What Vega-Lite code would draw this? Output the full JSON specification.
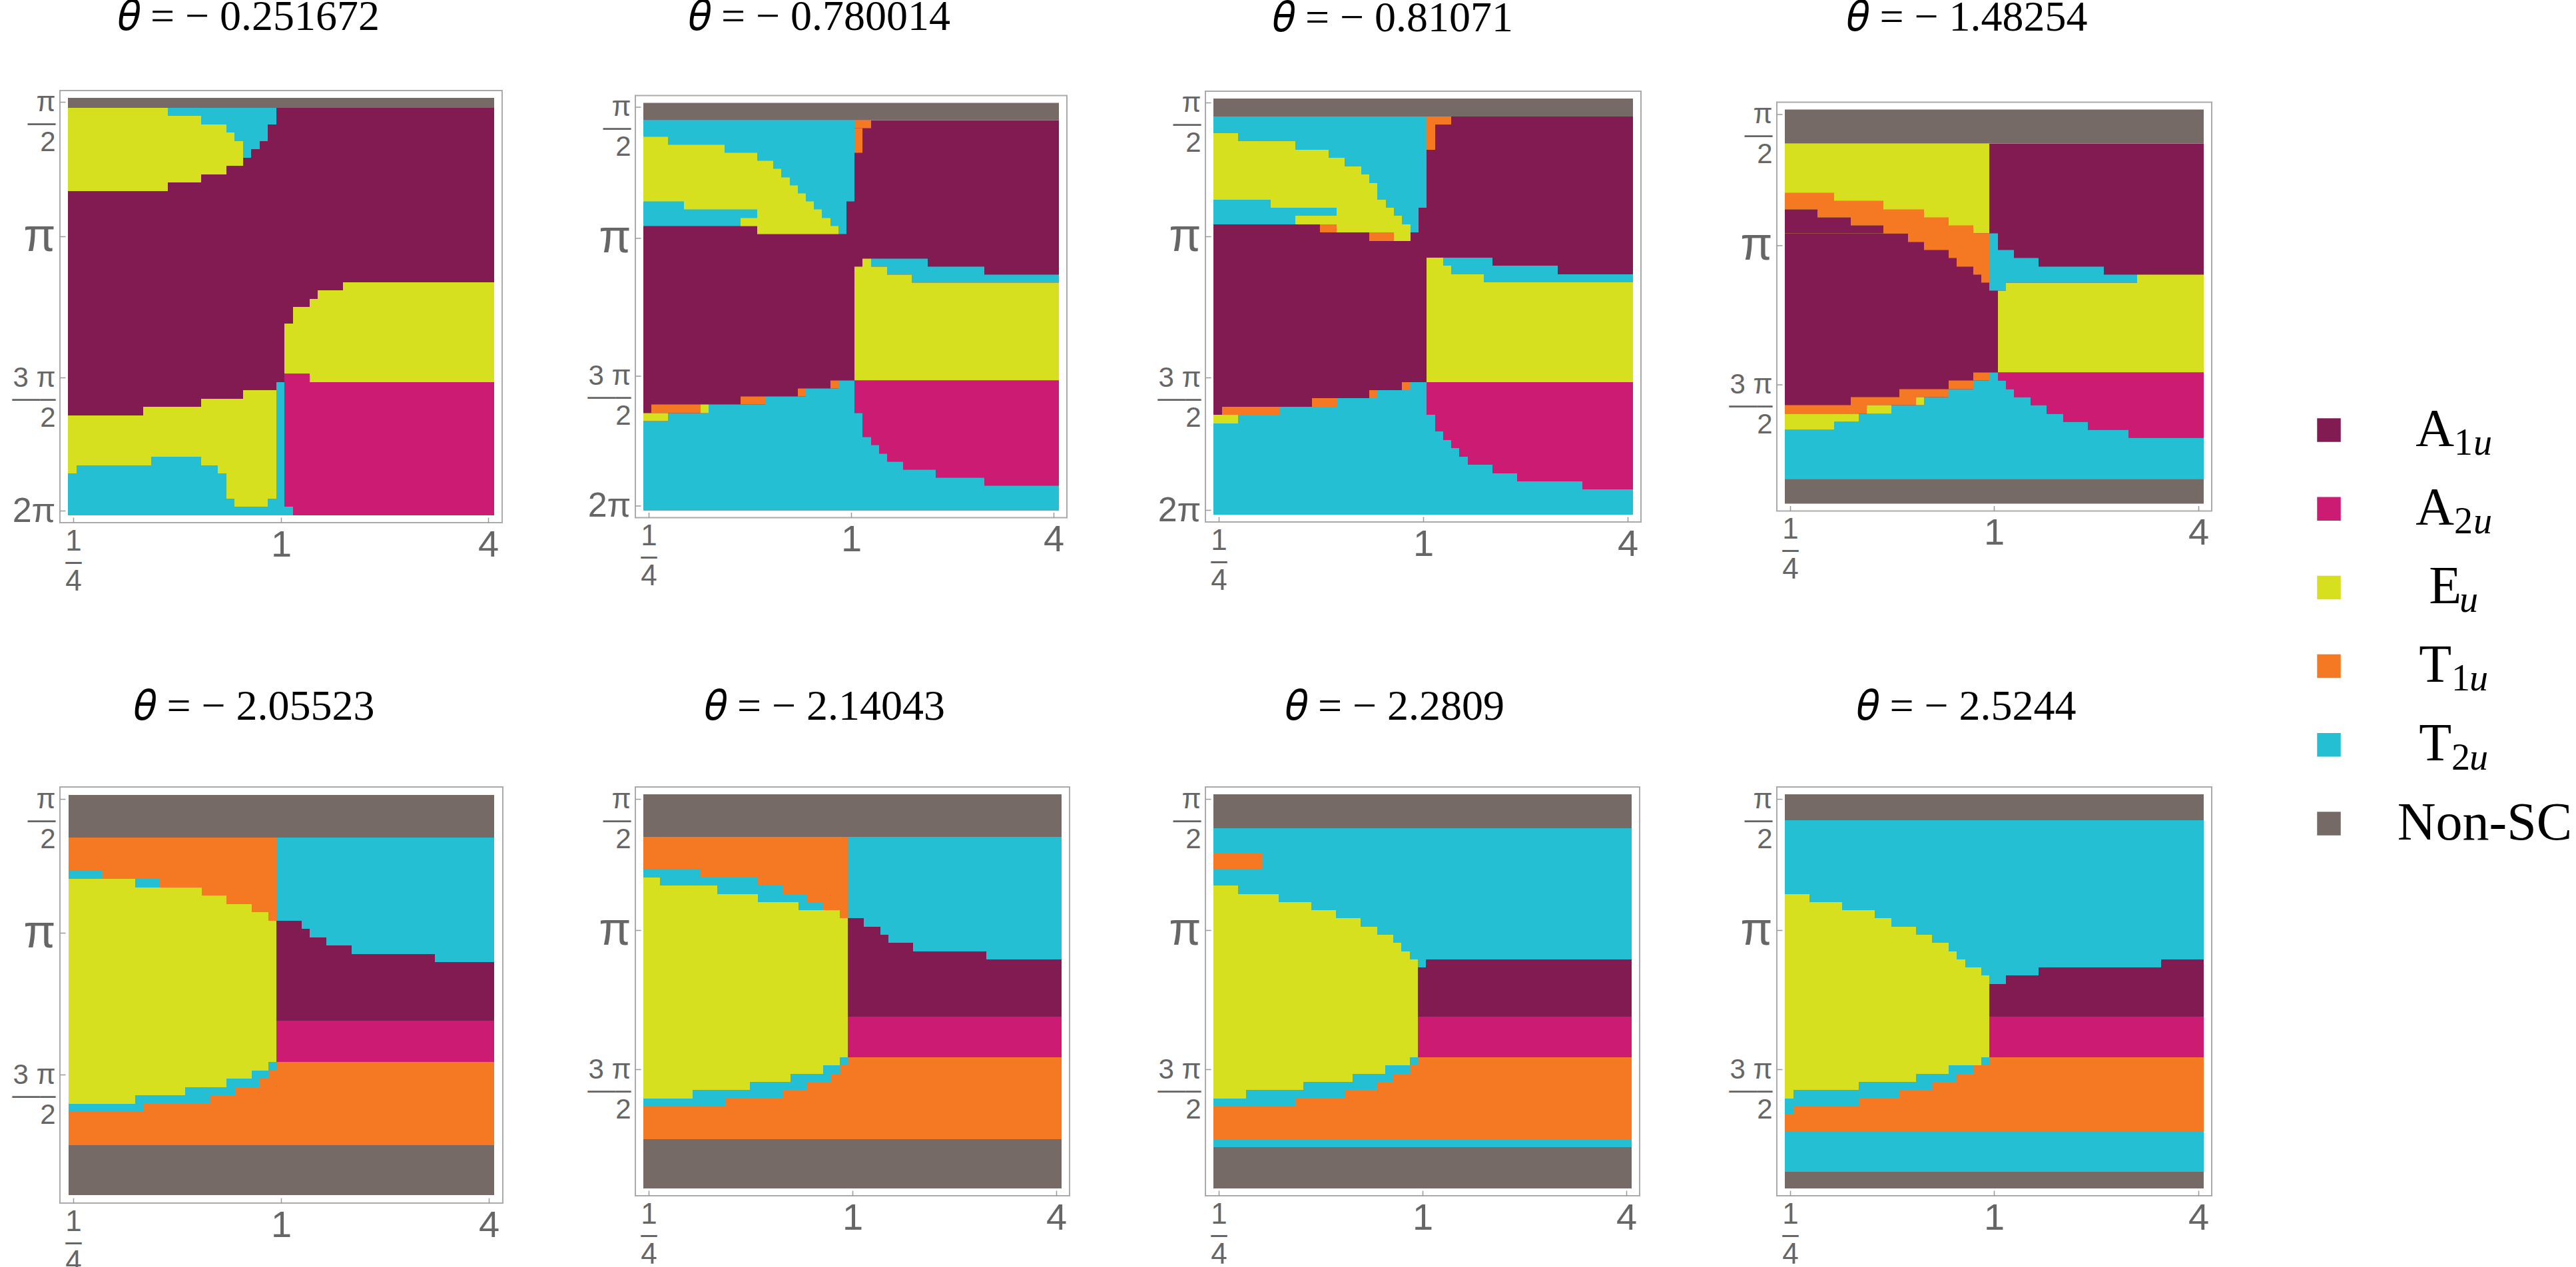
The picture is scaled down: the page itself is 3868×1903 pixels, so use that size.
{
"$schema":"https://vega.github.io/schema/vega-lite/v6.json",
"background":"white",
"padding":{"left":16,"top":-8,"right":0,"bottom":0},
"config":{
"view":{"stroke":"#aaaaaa","strokeWidth":2},
"title":{"font":"Liberation Serif","fontSize":64,"fontWeight":"normal","color":"#000000","anchor":"middle","frame":"group"},
"axis":{"domain":false,"grid":false,"title":null,"tickColor":"#999999","tickWidth":1.5,"tickSize":-8,"labelFont":"Liberation Sans","labelColor":"#666666","labelOverlap":false,"labelFlush":false,"labelBound":false,"labelLineHeight":30}
},
"datasets":{
"p1":[
{"x":0,"x2":51.15,"y":1,"y2":50,"phase":"A1u"},{"x":0,"x2":51.15,"y":-0.15,"y2":1,"phase":"Non-SC"},
{"x":0,"x2":12,"y":1,"y2":11,"phase":"Eu"},{"x":12,"x2":16,"y":2,"y2":10,"phase":"Eu"},{"x":16,"x2":19,"y":3,"y2":9,"phase":"Eu"},{"x":19,"x2":20,"y":4,"y2":8,"phase":"Eu"},{"x":20,"x2":21,"y":5,"y2":8,"phase":"Eu"},
{"x":12,"x2":16,"y":1,"y2":2,"phase":"T2u"},{"x":16,"x2":19,"y":1,"y2":3,"phase":"T2u"},{"x":19,"x2":20,"y":1,"y2":4,"phase":"T2u"},{"x":20,"x2":21,"y":1,"y2":5,"phase":"T2u"},{"x":21,"x2":22,"y":1,"y2":7,"phase":"T2u"},{"x":22,"x2":23,"y":1,"y2":6,"phase":"T2u"},{"x":23,"x2":24,"y":1,"y2":5,"phase":"T2u"},{"x":24,"x2":25,"y":1,"y2":3,"phase":"T2u"},
{"x":26,"x2":27,"y":27,"y2":33,"phase":"Eu"},{"x":27,"x2":29,"y":25,"y2":33,"phase":"Eu"},{"x":29,"x2":30,"y":24,"y2":34,"phase":"Eu"},{"x":30,"x2":33,"y":23,"y2":34,"phase":"Eu"},{"x":33,"x2":51.15,"y":22,"y2":34,"phase":"Eu"},
{"x":26,"x2":27,"y":33,"y2":49,"phase":"A2u"},{"x":27,"x2":29,"y":33,"y2":50,"phase":"A2u"},{"x":29,"x2":51.15,"y":34,"y2":50,"phase":"A2u"},{"x":26,"x2":27,"y":49,"y2":50,"phase":"T2u"},
{"x":0,"x2":1,"y":38,"y2":45,"phase":"Eu"},{"x":1,"x2":9,"y":38,"y2":44,"phase":"Eu"},{"x":9,"x2":10,"y":37,"y2":44,"phase":"Eu"},{"x":10,"x2":16,"y":37,"y2":43,"phase":"Eu"},{"x":16,"x2":18,"y":36,"y2":44,"phase":"Eu"},{"x":18,"x2":19,"y":36,"y2":45,"phase":"Eu"},{"x":19,"x2":20,"y":36,"y2":48,"phase":"Eu"},{"x":20,"x2":21,"y":36,"y2":49,"phase":"Eu"},{"x":21,"x2":24,"y":35,"y2":49,"phase":"Eu"},{"x":24,"x2":25,"y":35,"y2":48,"phase":"Eu"},
{"x":0,"x2":1,"y":45,"y2":50,"phase":"T2u"},{"x":1,"x2":10,"y":44,"y2":50,"phase":"T2u"},{"x":10,"x2":16,"y":43,"y2":50,"phase":"T2u"},{"x":16,"x2":18,"y":44,"y2":50,"phase":"T2u"},{"x":18,"x2":19,"y":45,"y2":50,"phase":"T2u"},{"x":19,"x2":20,"y":48,"y2":50,"phase":"T2u"},{"x":20,"x2":24,"y":49,"y2":50,"phase":"T2u"},{"x":24,"x2":25,"y":48,"y2":50,"phase":"T2u"},{"x":25,"x2":26,"y":34,"y2":50,"phase":"T2u"}
],
"p2":[
{"x":0,"x2":51.15,"y":2,"y2":50,"phase":"A1u"},{"x":0,"x2":51.15,"y":-0.15,"y2":2,"phase":"Non-SC"},
{"x":0,"x2":14,"y":2,"y2":15,"phase":"T2u"},{"x":14,"x2":25,"y":2,"y2":16,"phase":"T2u"},{"x":25,"x2":26,"y":2,"y2":12,"phase":"T2u"},
{"x":0,"x2":3,"y":4,"y2":12,"phase":"Eu"},{"x":3,"x2":5,"y":5,"y2":12,"phase":"Eu"},{"x":5,"x2":10,"y":5,"y2":13,"phase":"Eu"},{"x":10,"x2":14,"y":6,"y2":13,"phase":"Eu"},{"x":12,"x2":14,"y":14,"y2":15,"phase":"Eu"},{"x":14,"x2":16,"y":7,"y2":16,"phase":"Eu"},{"x":16,"x2":17,"y":8,"y2":16,"phase":"Eu"},{"x":17,"x2":18,"y":9,"y2":16,"phase":"Eu"},{"x":18,"x2":19,"y":10,"y2":16,"phase":"Eu"},{"x":19,"x2":20,"y":11,"y2":16,"phase":"Eu"},{"x":20,"x2":21,"y":12,"y2":16,"phase":"Eu"},{"x":21,"x2":22,"y":13,"y2":16,"phase":"Eu"},{"x":22,"x2":23,"y":14,"y2":16,"phase":"Eu"},{"x":23,"x2":24,"y":15,"y2":16,"phase":"Eu"},
{"x":26,"x2":28,"y":2,"y2":3,"phase":"T1u"},{"x":26,"x2":27,"y":3,"y2":6,"phase":"T1u"},
{"x":28,"x2":30,"y":19,"y2":20,"phase":"T2u"},{"x":30,"x2":33,"y":19,"y2":21,"phase":"T2u"},{"x":33,"x2":35,"y":19,"y2":22,"phase":"T2u"},{"x":35,"x2":42,"y":20,"y2":22,"phase":"T2u"},{"x":42,"x2":51.15,"y":21,"y2":22,"phase":"T2u"},
{"x":26,"x2":27,"y":20,"y2":34,"phase":"Eu"},{"x":27,"x2":28,"y":19,"y2":34,"phase":"Eu"},{"x":28,"x2":30,"y":20,"y2":34,"phase":"Eu"},{"x":30,"x2":33,"y":21,"y2":34,"phase":"Eu"},{"x":33,"x2":51.15,"y":22,"y2":34,"phase":"Eu"},
{"x":26,"x2":27,"y":34,"y2":38,"phase":"A2u"},{"x":27,"x2":28,"y":34,"y2":41,"phase":"A2u"},{"x":28,"x2":29,"y":34,"y2":42,"phase":"A2u"},{"x":29,"x2":30,"y":34,"y2":43,"phase":"A2u"},{"x":30,"x2":32,"y":34,"y2":44,"phase":"A2u"},{"x":32,"x2":36,"y":34,"y2":45,"phase":"A2u"},{"x":36,"x2":42,"y":34,"y2":46,"phase":"A2u"},{"x":42,"x2":51.15,"y":34,"y2":47,"phase":"A2u"},
{"x":26,"x2":27,"y":38,"y2":50,"phase":"T2u"},{"x":27,"x2":28,"y":41,"y2":50,"phase":"T2u"},{"x":28,"x2":29,"y":42,"y2":50,"phase":"T2u"},{"x":29,"x2":30,"y":43,"y2":50,"phase":"T2u"},{"x":30,"x2":32,"y":44,"y2":50,"phase":"T2u"},{"x":32,"x2":36,"y":45,"y2":50,"phase":"T2u"},{"x":36,"x2":42,"y":46,"y2":50,"phase":"T2u"},{"x":42,"x2":51.15,"y":47,"y2":50,"phase":"T2u"},
{"x":0,"x2":3,"y":39,"y2":50,"phase":"T2u"},{"x":3,"x2":8,"y":38,"y2":50,"phase":"T2u"},{"x":8,"x2":15,"y":37,"y2":50,"phase":"T2u"},{"x":15,"x2":20,"y":36,"y2":50,"phase":"T2u"},{"x":20,"x2":24,"y":35,"y2":50,"phase":"T2u"},{"x":24,"x2":26,"y":34,"y2":50,"phase":"T2u"},
{"x":1,"x2":7,"y":37,"y2":38,"phase":"T1u"},{"x":12,"x2":15,"y":36,"y2":37,"phase":"T1u"},{"x":19,"x2":20,"y":35,"y2":36,"phase":"T1u"},{"x":23,"x2":24,"y":34,"y2":35,"phase":"T1u"},{"x":0,"x2":3,"y":38,"y2":39,"phase":"Eu"},{"x":7,"x2":8,"y":37,"y2":38,"phase":"Eu"}
],
"p3":[
{"x":0,"x2":51.15,"y":2,"y2":50,"phase":"A1u"},{"x":0,"x2":51.15,"y":-0.15,"y2":2,"phase":"Non-SC"},
{"x":0,"x2":15,"y":2,"y2":15,"phase":"T2u"},{"x":15,"x2":25,"y":2,"y2":16,"phase":"T2u"},{"x":25,"x2":26,"y":2,"y2":13,"phase":"T2u"},
{"x":0,"x2":3,"y":4,"y2":12,"phase":"Eu"},{"x":3,"x2":7,"y":5,"y2":12,"phase":"Eu"},{"x":7,"x2":10,"y":5,"y2":13,"phase":"Eu"},{"x":10,"x2":14,"y":6,"y2":13,"phase":"Eu"},{"x":10,"x2":15,"y":14,"y2":15,"phase":"Eu"},{"x":14,"x2":15,"y":7,"y2":13,"phase":"Eu"},{"x":15,"x2":16,"y":7,"y2":16,"phase":"Eu"},{"x":16,"x2":18,"y":8,"y2":16,"phase":"Eu"},{"x":18,"x2":19,"y":9,"y2":16,"phase":"Eu"},{"x":19,"x2":20,"y":10,"y2":16,"phase":"Eu"},{"x":20,"x2":21,"y":12,"y2":16,"phase":"Eu"},{"x":21,"x2":22,"y":13,"y2":16,"phase":"Eu"},{"x":22,"x2":23,"y":14,"y2":17,"phase":"Eu"},{"x":23,"x2":24,"y":15,"y2":17,"phase":"Eu"},
{"x":13,"x2":15,"y":15,"y2":16,"phase":"T1u"},{"x":19,"x2":22,"y":16,"y2":17,"phase":"T1u"},{"x":26,"x2":29,"y":2,"y2":3,"phase":"T1u"},{"x":26,"x2":27,"y":3,"y2":6,"phase":"T1u"},
{"x":26,"x2":28,"y":19,"y2":34,"phase":"Eu"},{"x":28,"x2":29,"y":20,"y2":34,"phase":"Eu"},{"x":29,"x2":33,"y":21,"y2":34,"phase":"Eu"},{"x":33,"x2":51.15,"y":22,"y2":34,"phase":"Eu"},
{"x":28,"x2":29,"y":19,"y2":20,"phase":"T2u"},{"x":29,"x2":33,"y":19,"y2":21,"phase":"T2u"},{"x":33,"x2":34,"y":19,"y2":22,"phase":"T2u"},{"x":34,"x2":42,"y":20,"y2":22,"phase":"T2u"},{"x":42,"x2":51.15,"y":21,"y2":22,"phase":"T2u"},
{"x":26,"x2":27,"y":34,"y2":38,"phase":"A2u"},{"x":27,"x2":28,"y":34,"y2":40,"phase":"A2u"},{"x":28,"x2":29,"y":34,"y2":41,"phase":"A2u"},{"x":29,"x2":30,"y":34,"y2":42,"phase":"A2u"},{"x":30,"x2":31,"y":34,"y2":43,"phase":"A2u"},{"x":31,"x2":34,"y":34,"y2":44,"phase":"A2u"},{"x":34,"x2":37,"y":34,"y2":45,"phase":"A2u"},{"x":37,"x2":45,"y":34,"y2":46,"phase":"A2u"},{"x":45,"x2":51.15,"y":34,"y2":47,"phase":"A2u"},
{"x":26,"x2":27,"y":38,"y2":50,"phase":"T2u"},{"x":27,"x2":28,"y":40,"y2":50,"phase":"T2u"},{"x":28,"x2":29,"y":41,"y2":50,"phase":"T2u"},{"x":29,"x2":30,"y":42,"y2":50,"phase":"T2u"},{"x":30,"x2":31,"y":43,"y2":50,"phase":"T2u"},{"x":31,"x2":34,"y":44,"y2":50,"phase":"T2u"},{"x":34,"x2":37,"y":45,"y2":50,"phase":"T2u"},{"x":37,"x2":45,"y":46,"y2":50,"phase":"T2u"},{"x":45,"x2":51.15,"y":47,"y2":50,"phase":"T2u"},
{"x":0,"x2":3,"y":39,"y2":50,"phase":"T2u"},{"x":3,"x2":8,"y":38,"y2":50,"phase":"T2u"},{"x":8,"x2":15,"y":37,"y2":50,"phase":"T2u"},{"x":15,"x2":20,"y":36,"y2":50,"phase":"T2u"},{"x":20,"x2":24,"y":35,"y2":50,"phase":"T2u"},{"x":24,"x2":26,"y":34,"y2":50,"phase":"T2u"},
{"x":1,"x2":8,"y":37,"y2":38,"phase":"T1u"},{"x":12,"x2":15,"y":36,"y2":37,"phase":"T1u"},{"x":19,"x2":20,"y":35,"y2":36,"phase":"T1u"},{"x":23,"x2":24,"y":34,"y2":35,"phase":"T1u"},{"x":0,"x2":3,"y":38,"y2":39,"phase":"Eu"}
],
"p4":[
{"x":0,"x2":51.15,"y":4,"y2":45,"phase":"A1u"},{"x":0,"x2":51.15,"y":-0.15,"y2":4,"phase":"Non-SC"},{"x":0,"x2":51.15,"y":45,"y2":48,"phase":"Non-SC"},
{"x":0,"x2":25,"y":4,"y2":15,"phase":"Eu"},
{"x":0,"x2":4,"y":10,"y2":12,"phase":"T1u"},{"x":4,"x2":6,"y":10,"y2":13,"phase":"T1u"},{"x":6,"x2":8,"y":11,"y2":13,"phase":"T1u"},{"x":8,"x2":12,"y":11,"y2":14,"phase":"T1u"},{"x":12,"x2":15,"y":12,"y2":15,"phase":"T1u"},{"x":15,"x2":17,"y":12,"y2":16,"phase":"T1u"},{"x":17,"x2":20,"y":13,"y2":17,"phase":"T1u"},{"x":20,"x2":21,"y":14,"y2":18,"phase":"T1u"},{"x":21,"x2":23,"y":14,"y2":19,"phase":"T1u"},{"x":23,"x2":24,"y":15,"y2":20,"phase":"T1u"},{"x":24,"x2":25,"y":15,"y2":21,"phase":"T1u"},
{"x":0,"x2":4,"y":12,"y2":15,"phase":"A1u"},{"x":4,"x2":8,"y":13,"y2":15,"phase":"A1u"},{"x":8,"x2":12,"y":14,"y2":15,"phase":"A1u"},
{"x":26,"x2":27,"y":22,"y2":32,"phase":"Eu"},{"x":27,"x2":43,"y":21,"y2":32,"phase":"Eu"},{"x":43,"x2":51.15,"y":20,"y2":32,"phase":"Eu"},
{"x":25,"x2":26,"y":15,"y2":22,"phase":"T2u"},{"x":26,"x2":27,"y":17,"y2":22,"phase":"T2u"},{"x":27,"x2":28,"y":17,"y2":21,"phase":"T2u"},{"x":28,"x2":31,"y":18,"y2":21,"phase":"T2u"},{"x":31,"x2":39,"y":19,"y2":21,"phase":"T2u"},{"x":39,"x2":43,"y":20,"y2":21,"phase":"T2u"},
{"x":0,"x2":6,"y":39,"y2":45,"phase":"T2u"},{"x":6,"x2":9,"y":38,"y2":45,"phase":"T2u"},{"x":9,"x2":13,"y":37,"y2":45,"phase":"T2u"},{"x":13,"x2":17,"y":36,"y2":45,"phase":"T2u"},{"x":17,"x2":20,"y":35,"y2":45,"phase":"T2u"},{"x":20,"x2":23,"y":34,"y2":45,"phase":"T2u"},{"x":23,"x2":25,"y":33,"y2":45,"phase":"T2u"},{"x":25,"x2":26,"y":32,"y2":45,"phase":"T2u"},
{"x":26,"x2":27,"y":33,"y2":45,"phase":"T2u"},{"x":27,"x2":28,"y":34,"y2":45,"phase":"T2u"},{"x":28,"x2":30,"y":35,"y2":45,"phase":"T2u"},{"x":30,"x2":32,"y":36,"y2":45,"phase":"T2u"},{"x":32,"x2":34,"y":37,"y2":45,"phase":"T2u"},{"x":34,"x2":37,"y":38,"y2":45,"phase":"T2u"},{"x":37,"x2":42,"y":39,"y2":45,"phase":"T2u"},{"x":42,"x2":51.15,"y":40,"y2":45,"phase":"T2u"},
{"x":26,"x2":27,"y":32,"y2":33,"phase":"A2u"},{"x":27,"x2":28,"y":32,"y2":34,"phase":"A2u"},{"x":28,"x2":30,"y":32,"y2":35,"phase":"A2u"},{"x":30,"x2":32,"y":32,"y2":36,"phase":"A2u"},{"x":32,"x2":34,"y":32,"y2":37,"phase":"A2u"},{"x":34,"x2":37,"y":32,"y2":38,"phase":"A2u"},{"x":37,"x2":42,"y":32,"y2":39,"phase":"A2u"},{"x":42,"x2":51.15,"y":32,"y2":40,"phase":"A2u"},
{"x":0,"x2":8,"y":36,"y2":37,"phase":"T1u"},{"x":8,"x2":10,"y":35,"y2":37,"phase":"T1u"},{"x":10,"x2":14,"y":35,"y2":36,"phase":"T1u"},{"x":14,"x2":16,"y":34,"y2":36,"phase":"T1u"},{"x":16,"x2":20,"y":34,"y2":35,"phase":"T1u"},{"x":20,"x2":23,"y":33,"y2":34,"phase":"T1u"},{"x":23,"x2":25,"y":32,"y2":33,"phase":"T1u"},
{"x":0,"x2":6,"y":37,"y2":39,"phase":"Eu"},{"x":6,"x2":9,"y":37,"y2":38,"phase":"Eu"},{"x":10,"x2":13,"y":36,"y2":37,"phase":"Eu"},{"x":16,"x2":17,"y":35,"y2":36,"phase":"Eu"}
],
"p5":[
{"x":0,"x2":25,"y":5,"y2":42,"phase":"T1u"},{"x":25,"x2":51.15,"y":32,"y2":42,"phase":"T1u"},{"x":0,"x2":51.15,"y":-0.15,"y2":5,"phase":"Non-SC"},{"x":0,"x2":51.15,"y":42,"y2":48,"phase":"Non-SC"},
{"x":25,"x2":51.15,"y":5,"y2":27,"phase":"A1u"},{"x":25,"x2":51.15,"y":27,"y2":32,"phase":"A2u"},
{"x":25,"x2":28,"y":5,"y2":15,"phase":"T2u"},{"x":28,"x2":29,"y":5,"y2":16,"phase":"T2u"},{"x":29,"x2":31,"y":5,"y2":17,"phase":"T2u"},{"x":31,"x2":34,"y":5,"y2":18,"phase":"T2u"},{"x":34,"x2":44,"y":5,"y2":19,"phase":"T2u"},{"x":44,"x2":51.15,"y":5,"y2":20,"phase":"T2u"},
{"x":0,"x2":4,"y":9,"y2":10,"phase":"T2u"},{"x":8,"x2":11,"y":10,"y2":11,"phase":"T2u"},
{"x":0,"x2":8,"y":10,"y2":37,"phase":"Eu"},{"x":8,"x2":14,"y":11,"y2":36,"phase":"Eu"},{"x":14,"x2":16,"y":11,"y2":35,"phase":"Eu"},{"x":16,"x2":19,"y":12,"y2":35,"phase":"Eu"},{"x":19,"x2":22,"y":13,"y2":34,"phase":"Eu"},{"x":22,"x2":24,"y":14,"y2":33,"phase":"Eu"},{"x":24,"x2":25,"y":15,"y2":32,"phase":"Eu"},
{"x":0,"x2":9,"y":37,"y2":38,"phase":"T2u"},{"x":8,"x2":17,"y":36,"y2":37,"phase":"T2u"},{"x":14,"x2":20,"y":35,"y2":36,"phase":"T2u"},{"x":19,"x2":23,"y":34,"y2":35,"phase":"T2u"},{"x":22,"x2":24,"y":33,"y2":34,"phase":"T2u"},{"x":24,"x2":25,"y":32,"y2":33,"phase":"T2u"}
],
"p6":[
{"x":0,"x2":25,"y":5,"y2":42,"phase":"T1u"},{"x":25,"x2":51.15,"y":32,"y2":42,"phase":"T1u"},{"x":0,"x2":51.15,"y":-0.15,"y2":5,"phase":"Non-SC"},{"x":0,"x2":51.15,"y":42,"y2":48,"phase":"Non-SC"},
{"x":25,"x2":51.15,"y":5,"y2":27,"phase":"A1u"},{"x":25,"x2":51.15,"y":27,"y2":32,"phase":"A2u"},
{"x":25,"x2":27,"y":5,"y2":15,"phase":"T2u"},{"x":27,"x2":29,"y":5,"y2":16,"phase":"T2u"},{"x":29,"x2":30,"y":5,"y2":17,"phase":"T2u"},{"x":30,"x2":33,"y":5,"y2":18,"phase":"T2u"},{"x":33,"x2":42,"y":5,"y2":19,"phase":"T2u"},{"x":42,"x2":51.15,"y":5,"y2":20,"phase":"T2u"},
{"x":0,"x2":7,"y":9,"y2":10,"phase":"T2u"},{"x":2,"x2":14,"y":10,"y2":11,"phase":"T2u"},{"x":9,"x2":17,"y":11,"y2":12,"phase":"T2u"},{"x":14,"x2":20,"y":12,"y2":13,"phase":"T2u"},{"x":19,"x2":22,"y":13,"y2":14,"phase":"T2u"},
{"x":0,"x2":2,"y":10,"y2":37,"phase":"Eu"},{"x":2,"x2":6,"y":11,"y2":37,"phase":"Eu"},{"x":6,"x2":9,"y":11,"y2":36,"phase":"Eu"},{"x":9,"x2":13,"y":12,"y2":36,"phase":"Eu"},{"x":13,"x2":14,"y":12,"y2":35,"phase":"Eu"},{"x":14,"x2":18,"y":13,"y2":35,"phase":"Eu"},{"x":18,"x2":19,"y":13,"y2":34,"phase":"Eu"},{"x":19,"x2":22,"y":14,"y2":34,"phase":"Eu"},{"x":22,"x2":24,"y":14,"y2":33,"phase":"Eu"},{"x":24,"x2":25,"y":15,"y2":32,"phase":"Eu"},
{"x":0,"x2":10,"y":37,"y2":38,"phase":"T2u"},{"x":6,"x2":17,"y":36,"y2":37,"phase":"T2u"},{"x":13,"x2":20,"y":35,"y2":36,"phase":"T2u"},{"x":18,"x2":23,"y":34,"y2":35,"phase":"T2u"},{"x":22,"x2":24,"y":33,"y2":34,"phase":"T2u"},{"x":24,"x2":25,"y":32,"y2":33,"phase":"T2u"}
],
"p7":[
{"x":0,"x2":51.15,"y":4,"y2":20,"phase":"T2u"},{"x":0,"x2":25,"y":20,"y2":32,"phase":"T2u"},{"x":25,"x2":26,"y":20,"y2":21,"phase":"T2u"},{"x":0,"x2":51.15,"y":-0.15,"y2":4,"phase":"Non-SC"},{"x":0,"x2":51.15,"y":43,"y2":48,"phase":"Non-SC"},
{"x":0,"x2":51.15,"y":32,"y2":42,"phase":"T1u"},{"x":0,"x2":51.15,"y":42,"y2":43,"phase":"T2u"},{"x":0,"x2":6,"y":7,"y2":9,"phase":"T1u"},
{"x":26,"x2":51.15,"y":20,"y2":27,"phase":"A1u"},{"x":25,"x2":26,"y":21,"y2":27,"phase":"A1u"},{"x":25,"x2":51.15,"y":27,"y2":32,"phase":"A2u"},
{"x":0,"x2":3,"y":11,"y2":37,"phase":"Eu"},{"x":3,"x2":4,"y":12,"y2":37,"phase":"Eu"},{"x":4,"x2":8,"y":12,"y2":36,"phase":"Eu"},{"x":8,"x2":11,"y":13,"y2":36,"phase":"Eu"},{"x":11,"x2":12,"y":13,"y2":35,"phase":"Eu"},{"x":12,"x2":15,"y":14,"y2":35,"phase":"Eu"},{"x":15,"x2":17,"y":15,"y2":35,"phase":"Eu"},{"x":17,"x2":18,"y":15,"y2":34,"phase":"Eu"},{"x":18,"x2":20,"y":16,"y2":34,"phase":"Eu"},{"x":20,"x2":21,"y":17,"y2":34,"phase":"Eu"},{"x":21,"x2":22,"y":17,"y2":33,"phase":"Eu"},{"x":22,"x2":23,"y":18,"y2":33,"phase":"Eu"},{"x":23,"x2":24,"y":19,"y2":33,"phase":"Eu"},{"x":24,"x2":25,"y":20,"y2":32,"phase":"Eu"},
{"x":0,"x2":10,"y":37,"y2":38,"phase":"T2u"},{"x":4,"x2":16,"y":36,"y2":37,"phase":"T2u"},{"x":11,"x2":20,"y":35,"y2":36,"phase":"T2u"},{"x":17,"x2":22,"y":34,"y2":35,"phase":"T2u"},{"x":21,"x2":24,"y":33,"y2":34,"phase":"T2u"},{"x":24,"x2":25,"y":32,"y2":33,"phase":"T2u"}
],
"p8":[
{"x":0,"x2":51.15,"y":3,"y2":46,"phase":"T2u"},{"x":0,"x2":51.15,"y":-0.15,"y2":3,"phase":"Non-SC"},{"x":0,"x2":51.15,"y":46,"y2":48,"phase":"Non-SC"},
{"x":25,"x2":27,"y":23,"y2":27,"phase":"A1u"},{"x":27,"x2":31,"y":22,"y2":27,"phase":"A1u"},{"x":31,"x2":46,"y":21,"y2":27,"phase":"A1u"},{"x":46,"x2":51.15,"y":20,"y2":27,"phase":"A1u"},{"x":25,"x2":51.15,"y":27,"y2":32,"phase":"A2u"},
{"x":0,"x2":1,"y":39,"y2":41,"phase":"T1u"},{"x":1,"x2":9,"y":38,"y2":41,"phase":"T1u"},{"x":9,"x2":14,"y":37,"y2":41,"phase":"T1u"},{"x":14,"x2":18,"y":36,"y2":41,"phase":"T1u"},{"x":18,"x2":21,"y":35,"y2":41,"phase":"T1u"},{"x":21,"x2":23,"y":34,"y2":41,"phase":"T1u"},{"x":23,"x2":25,"y":33,"y2":41,"phase":"T1u"},{"x":25,"x2":51.15,"y":32,"y2":41,"phase":"T1u"},
{"x":0,"x2":1,"y":12,"y2":37,"phase":"Eu"},{"x":1,"x2":3,"y":12,"y2":36,"phase":"Eu"},{"x":3,"x2":7,"y":13,"y2":36,"phase":"Eu"},{"x":7,"x2":9,"y":14,"y2":36,"phase":"Eu"},{"x":9,"x2":11,"y":14,"y2":35,"phase":"Eu"},{"x":11,"x2":13,"y":15,"y2":35,"phase":"Eu"},{"x":13,"x2":16,"y":16,"y2":35,"phase":"Eu"},{"x":16,"x2":18,"y":17,"y2":34,"phase":"Eu"},{"x":18,"x2":20,"y":18,"y2":34,"phase":"Eu"},{"x":20,"x2":21,"y":19,"y2":33,"phase":"Eu"},{"x":21,"x2":22,"y":20,"y2":33,"phase":"Eu"},{"x":22,"x2":24,"y":21,"y2":33,"phase":"Eu"},{"x":24,"x2":25,"y":22,"y2":32,"phase":"Eu"}
],
"legend":[
{"phase":"A1u","base":"A","digit":"1","u":"u"},
{"phase":"A2u","base":"A","digit":"2","u":"u"},
{"phase":"Eu","base":"E","digit":"","u":"u"},
{"phase":"T1u","base":"T","digit":"1","u":"u"},
{"phase":"T2u","base":"T","digit":"2","u":"u"},
{"phase":"Non-SC","base":"Non-SC","digit":"","u":""}
]
},
"columns":10,
"spacing":{"row":397,"column":0},
"bounds":"flush",
"align":{"row":"each","column":"none"},
"center":{"row":true},
"concat":[
{"width":7,"height":1,"view":{"stroke":null},"data":{"values":[]},"mark":"rect"},
{"title":{"text":"𝜃 = − 0.251672","dx":-48,"offset":74},"data":{"name":"p1"},"width":664,"height":649,"mark":"rect","encoding":{"x":{"field":"x","type":"quantitative","scale":{"domain":[-1,52.15],"nice":false,"zero":false,"round":true},"axis":{"values":[0.6,25.55,50.5],"labelExpr":"datum.value<1?['1','–','4']:datum.value<26?'1':'4'","labelFontSize":{"condition":{"test":"datum.value<1","value":44},"value":56},"labelPadding":14}},"x2":{"field":"x2"},"y":{"field":"y","type":"quantitative","scale":{"domain":[50.9,-1.05],"nice":false,"zero":false,"round":true},"axis":{"values":[0.35,16.45,33.45,49.45],"labelExpr":"datum.value<1?['π','—','2']:datum.value<17?'π':datum.value<34?['3 π','—–','2']:'2π'","labelFontSize":{"condition":[{"test":"datum.value>16&&datum.value<17","value":70},{"test":"datum.value>49","value":52}],"value":42},"labelPadding":15}},"y2":{"field":"y2"},"color":{"field":"phase","type":"nominal","legend":null,"scale":{"domain":["A1u","A2u","Eu","T1u","T2u","Non-SC"],"range":["#821B52","#CC1B72","#D7E01F","#F57923","#24BFD3","#766A66"]}}}},
{"width":199,"height":1,"view":{"stroke":null},"data":{"values":[]},"mark":"rect"},
{"title":{"text":"𝜃 = − 0.780014","dx":-47,"offset":82},"data":{"name":"p2"},"width":648,"height":634,"mark":"rect","encoding":{"x":{"field":"x","type":"quantitative","scale":{"domain":[-1,52.15],"nice":false,"zero":false,"round":true},"axis":{"values":[0.6,25.55,50.5],"labelExpr":"datum.value<1?['1','–','4']:datum.value<26?'1':'4'","labelFontSize":{"condition":{"test":"datum.value<1","value":44},"value":56},"labelPadding":14}},"x2":{"field":"x2"},"y":{"field":"y","type":"quantitative","scale":{"domain":[50.9,-1.05],"nice":false,"zero":false,"round":true},"axis":{"values":[0.35,16.45,33.45,49.45],"labelExpr":"datum.value<1?['π','—','2']:datum.value<17?'π':datum.value<34?['3 π','—–','2']:'2π'","labelFontSize":{"condition":[{"test":"datum.value>16&&datum.value<17","value":70},{"test":"datum.value>49","value":52}],"value":42},"labelPadding":15}},"y2":{"field":"y2"},"color":{"field":"phase","type":"nominal","legend":null}}},
{"width":202,"height":1,"view":{"stroke":null},"data":{"values":[]},"mark":"rect"},
{"title":{"text":"𝜃 = − 0.81071","dx":-45,"offset":73},"data":{"name":"p3"},"width":654,"height":647,"mark":"rect","encoding":{"x":{"field":"x","type":"quantitative","scale":{"domain":[-1,52.15],"nice":false,"zero":false,"round":true},"axis":{"values":[0.6,25.55,50.5],"labelExpr":"datum.value<1?['1','–','4']:datum.value<26?'1':'4'","labelFontSize":{"condition":{"test":"datum.value<1","value":44},"value":56},"labelPadding":14}},"x2":{"field":"x2"},"y":{"field":"y","type":"quantitative","scale":{"domain":[50.9,-1.05],"nice":false,"zero":false,"round":true},"axis":{"values":[0.35,16.45,33.45,49.45],"labelExpr":"datum.value<1?['π','—','2']:datum.value<17?'π':datum.value<34?['3 π','—–','2']:'2π'","labelFontSize":{"condition":[{"test":"datum.value>16&&datum.value<17","value":70},{"test":"datum.value>49","value":52}],"value":42},"labelPadding":15}},"y2":{"field":"y2"},"color":{"field":"phase","type":"nominal","legend":null}}},
{"width":200,"height":1,"view":{"stroke":null},"data":{"values":[]},"mark":"rect"},
{"title":{"text":"𝜃 = − 1.48254","dx":-40,"offset":92},"data":{"name":"p4"},"width":653,"height":614,"mark":"rect","encoding":{"x":{"field":"x","type":"quantitative","scale":{"domain":[-1,52.15],"nice":false,"zero":false,"round":true},"axis":{"values":[0.6,25.55,50.5],"labelExpr":"datum.value<1?['1','–','4']:datum.value<26?'1':'4'","labelFontSize":{"condition":{"test":"datum.value<1","value":44},"value":56},"labelPadding":14}},"x2":{"field":"x2"},"y":{"field":"y","type":"quantitative","scale":{"domain":[48.93,-1.08],"nice":false,"zero":false,"round":true},"axis":{"values":[0.35,16.45,33.45],"labelExpr":"datum.value<1?['π','—','2']:datum.value<17?'π':['3 π','—–','2']","labelFontSize":{"condition":{"test":"datum.value>16&&datum.value<17","value":70},"value":42},"labelPadding":15}},"y2":{"field":"y2"},"color":{"field":"phase","type":"nominal","legend":null}}},
{"width":100,"height":1,"view":{"stroke":null},"data":{"values":[]},"mark":"rect"},
{"data":{"name":"legend"},"width":450,"height":649,"view":{"stroke":null},
"encoding":{"y":{"field":"phase","type":"nominal","axis":null,"scale":{"type":"point","domain":["A1u","A2u","Eu","T1u","T2u","Non-SC"],"range":[510,1101],"padding":0}}},
"layer":[
{"mark":{"type":"square","size":1260,"opacity":1},"encoding":{"x":{"value":76},"color":{"field":"phase","type":"nominal","legend":null}}},
{"mark":{"type":"text","font":"Liberation Serif","fontSize":80,"color":"#000000","align":"right","baseline":"alphabetic","dy":23.5,"dx":{"expr":"datum.base=='E'?11:datum.base=='T'?-4:datum.base=='A'?0:177"}},"encoding":{"x":{"value":264},"text":{"field":"base"}}},
{"mark":{"type":"text","font":"Liberation Serif","fontSize":56,"color":"#000000","align":"left","baseline":"alphabetic","dy":36.7,"dx":{"expr":"datum.base=='T'?-4:0"}},"encoding":{"x":{"value":264},"text":{"field":"digit"}}},
{"mark":{"type":"text","font":"Liberation Serif","fontStyle":"italic","fontSize":56,"color":"#000000","align":"right","baseline":"alphabetic","dy":36.7,"dx":{"expr":"datum.base=='E'?-21:datum.base=='T'?-6:0"}},"encoding":{"x":{"value":321},"text":{"field":"u"}}}
]},
{"width":0,"height":1,"view":{"stroke":null},"data":{"values":[]},"mark":"rect"},
{"title":{"text":"𝜃 = − 2.05523","dx":-40,"offset":85},"data":{"name":"p5"},"width":665,"height":625,"mark":"rect","encoding":{"x":{"field":"x","type":"quantitative","scale":{"domain":[-1,52.15],"nice":false,"zero":false,"round":true},"axis":{"values":[0.6,25.55,50.5],"labelExpr":"datum.value<1?['1','–','4']:datum.value<26?'1':'4'","labelFontSize":{"condition":{"test":"datum.value<1","value":44},"value":56},"labelPadding":14}},"x2":{"field":"x2"},"y":{"field":"y","type":"quantitative","scale":{"domain":[48.93,-1.08],"nice":false,"zero":false,"round":true},"axis":{"values":[0.35,16.45,33.45],"labelExpr":"datum.value<1?['π','—','2']:datum.value<17?'π':['3 π','—–','2']","labelFontSize":{"condition":{"test":"datum.value>16&&datum.value<17","value":70},"value":42},"labelPadding":15}},"y2":{"field":"y2"},"color":{"field":"phase","type":"nominal","legend":null}}},
{"width":197,"height":1,"view":{"stroke":null},"data":{"values":[]},"mark":"rect"},
{"title":{"text":"𝜃 = − 2.14043","dx":-41,"offset":85},"data":{"name":"p6"},"width":652,"height":614,"mark":"rect","encoding":{"x":{"field":"x","type":"quantitative","scale":{"domain":[-1,52.15],"nice":false,"zero":false,"round":true},"axis":{"values":[0.6,25.55,50.5],"labelExpr":"datum.value<1?['1','–','4']:datum.value<26?'1':'4'","labelFontSize":{"condition":{"test":"datum.value<1","value":44},"value":56},"labelPadding":14}},"x2":{"field":"x2"},"y":{"field":"y","type":"quantitative","scale":{"domain":[48.93,-1.08],"nice":false,"zero":false,"round":true},"axis":{"values":[0.35,16.45,33.45],"labelExpr":"datum.value<1?['π','—','2']:datum.value<17?'π':['3 π','—–','2']","labelFontSize":{"condition":{"test":"datum.value>16&&datum.value<17","value":70},"value":42},"labelPadding":15}},"y2":{"field":"y2"},"color":{"field":"phase","type":"nominal","legend":null}}},
{"width":204,"height":1,"view":{"stroke":null},"data":{"values":[]},"mark":"rect"},
{"title":{"text":"𝜃 = − 2.2809","dx":-41,"offset":85},"data":{"name":"p7"},"width":652,"height":614,"mark":"rect","encoding":{"x":{"field":"x","type":"quantitative","scale":{"domain":[-1,52.15],"nice":false,"zero":false,"round":true},"axis":{"values":[0.6,25.55,50.5],"labelExpr":"datum.value<1?['1','–','4']:datum.value<26?'1':'4'","labelFontSize":{"condition":{"test":"datum.value<1","value":44},"value":56},"labelPadding":14}},"x2":{"field":"x2"},"y":{"field":"y","type":"quantitative","scale":{"domain":[48.93,-1.08],"nice":false,"zero":false,"round":true},"axis":{"values":[0.35,16.45,33.45],"labelExpr":"datum.value<1?['π','—','2']:datum.value<17?'π':['3 π','—–','2']","labelFontSize":{"condition":{"test":"datum.value>16&&datum.value<17","value":70},"value":42},"labelPadding":15}},"y2":{"field":"y2"},"color":{"field":"phase","type":"nominal","legend":null}}},
{"width":204,"height":1,"view":{"stroke":null},"data":{"values":[]},"mark":"rect"},
{"title":{"text":"𝜃 = − 2.5244","dx":-41,"offset":85},"data":{"name":"p8"},"width":653,"height":614,"mark":"rect","encoding":{"x":{"field":"x","type":"quantitative","scale":{"domain":[-1,52.15],"nice":false,"zero":false,"round":true},"axis":{"values":[0.6,25.55,50.5],"labelExpr":"datum.value<1?['1','–','4']:datum.value<26?'1':'4'","labelFontSize":{"condition":{"test":"datum.value<1","value":44},"value":56},"labelPadding":14}},"x2":{"field":"x2"},"y":{"field":"y","type":"quantitative","scale":{"domain":[48.93,-1.08],"nice":false,"zero":false,"round":true},"axis":{"values":[0.35,16.45,33.45],"labelExpr":"datum.value<1?['π','—','2']:datum.value<17?'π':['3 π','—–','2']","labelFontSize":{"condition":{"test":"datum.value>16&&datum.value<17","value":70},"value":42},"labelPadding":15}},"y2":{"field":"y2"},"color":{"field":"phase","type":"nominal","legend":null}}}
]
}
